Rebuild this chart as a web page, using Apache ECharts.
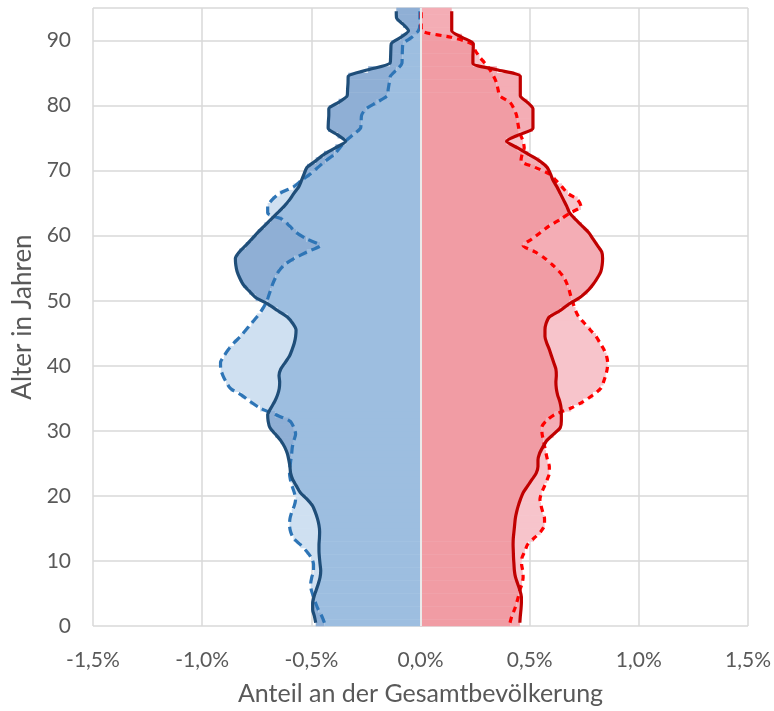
<!DOCTYPE html>
<html>
<head>
<meta charset="utf-8">
<script src="https://cdn.jsdelivr.net/npm/echarts@6/dist/echarts.min.js"></script>
<style>
html,body{margin:0;padding:0;background:#fff;}
#chart{width:774px;height:711px;}
</style>
</head>
<body>
<div id="chart"></div>
<script>
// Share of total population (%) per single year of age, index = age 0..94
const maleActual = [
0.48,0.486,0.494,0.494,0.488,0.478,0.468,0.46,0.457,0.46,
0.463,0.465,0.465,0.463,0.462,0.465,0.472,0.482,0.495,0.52,
0.55,0.568,0.585,0.595,0.598,0.603,0.61,0.622,0.64,0.665,
0.69,0.698,0.70,0.685,0.668,0.655,0.647,0.645,0.648,0.64,
0.62,0.60,0.588,0.578,0.572,0.57,0.585,0.61,0.655,0.70,
0.755,0.785,0.812,0.828,0.84,0.846,0.848,0.83,0.80,0.772,
0.745,0.715,0.685,0.655,0.625,0.60,0.58,0.558,0.545,0.533,
0.52,0.48,0.442,0.39,0.343,0.38,0.423,0.422,0.42,0.42,
0.375,0.336,0.334,0.332,0.331,0.24,0.14,0.137,0.136,0.134,
0.09,0.055,0.08,0.11,0.111
];
const maleComparison = [
0.44,0.452,0.468,0.48,0.49,0.50,0.503,0.498,0.49,0.49,
0.50,0.522,0.55,0.582,0.595,0.60,0.598,0.59,0.578,0.572,
0.578,0.588,0.596,0.60,0.598,0.594,0.59,0.587,0.58,0.572,
0.58,0.598,0.665,0.735,0.78,0.82,0.87,0.89,0.905,0.915,
0.916,0.90,0.88,0.855,0.825,0.80,0.775,0.75,0.728,0.71,
0.698,0.688,0.678,0.665,0.65,0.625,0.578,0.52,0.46,0.522,
0.57,0.60,0.632,0.70,0.70,0.68,0.645,0.582,0.545,0.505,
0.47,0.435,0.395,0.37,0.345,0.31,0.275,0.272,0.27,0.25,
0.20,0.153,0.148,0.143,0.138,0.11,0.085,0.084,0.083,0.08,
0.04,0.01,0.003,0.003,0.003
];
const femaleActual = [
0.455,0.457,0.46,0.462,0.462,0.455,0.445,0.435,0.43,0.428,
0.426,0.425,0.424,0.425,0.428,0.431,0.434,0.44,0.448,0.458,
0.47,0.49,0.51,0.53,0.538,0.538,0.545,0.56,0.578,0.61,
0.64,0.645,0.645,0.644,0.638,0.628,0.622,0.62,0.622,0.62,
0.61,0.60,0.59,0.578,0.57,0.57,0.575,0.59,0.64,0.68,
0.73,0.765,0.79,0.81,0.826,0.832,0.834,0.83,0.81,0.79,
0.77,0.74,0.71,0.683,0.67,0.655,0.64,0.625,0.607,0.595,
0.58,0.545,0.495,0.445,0.394,0.45,0.515,0.515,0.515,0.515,
0.49,0.457,0.457,0.457,0.457,0.35,0.24,0.24,0.241,0.242,
0.19,0.143,0.143,0.143,0.143
];
const femaleComparison = [
0.41,0.418,0.43,0.44,0.448,0.455,0.465,0.47,0.468,0.463,
0.465,0.478,0.49,0.52,0.55,0.568,0.568,0.56,0.552,0.547,
0.555,0.568,0.58,0.59,0.59,0.582,0.575,0.569,0.563,0.557,
0.555,0.575,0.615,0.69,0.745,0.79,0.825,0.838,0.848,0.855,
0.857,0.852,0.84,0.822,0.804,0.778,0.752,0.725,0.71,0.70,
0.69,0.682,0.672,0.658,0.635,0.605,0.57,0.525,0.47,0.51,
0.55,0.59,0.64,0.685,0.735,0.72,0.675,0.648,0.62,0.59,
0.525,0.46,0.465,0.475,0.47,0.458,0.45,0.445,0.44,0.428,
0.41,0.363,0.355,0.348,0.335,0.318,0.295,0.27,0.25,0.235,
0.14,0.005,0.003,0.003,0.003
];

const FONT = 'Lato';
const TXT = '#595959';

function buildLayers(actual, comp, sign) {
  const base = [], actExcess = [], compExcess = [];
  for (let i = 0; i < actual.length; i++) {
    const a = actual[i], c = comp[i];
    const lo = Math.min(a, c), hi = Math.max(a, c);
    base.push([0, sign * lo, i]);
    if (a > c) actExcess.push([sign * lo, sign * hi, i]);
    else if (c > a) compExcess.push([sign * lo, sign * hi, i]);
  }
  return {base, actExcess, compExcess};
}
function linePts(arr, sign) {
  return arr.map((v, i) => [sign * v, i + 0.5]);
}

function barSeries(data, color) {
  return {
    type: 'custom',
    data: data,
    encode: {x: [0, 1], y: 2},
    silent: true,
    z: 1,
    renderItem: function (params, api) {
      const p0 = api.coord([api.value(0), api.value(2)]);
      const p1 = api.coord([api.value(1), api.value(2) + 1]);
      const x = Math.min(p0[0], p1[0]);
      const y = Math.min(p0[1], p1[1]);
      return {
        type: 'rect',
        shape: {x: x, y: y - 0.3, width: Math.abs(p1[0] - p0[0]), height: Math.abs(p1[1] - p0[1]) + 0.6},
        style: {fill: color}
      };
    }
  };
}

const M = buildLayers(maleActual, maleComparison, -1);
const F = buildLayers(femaleActual, femaleComparison, 1);

function lineSeries(data, color, dashed, dash) {
  return {
    type: 'line',
    data: data,
    showSymbol: false,
    symbol: 'none',
    smooth: 0.25,
    z: dashed ? 3 : 4,
    lineStyle: {color: color, width: 3.2, type: dashed ? dash : 'solid'},
    silent: true
  };
}

const chart = echarts.init(document.getElementById('chart'), null, {renderer: 'canvas'});
chart.setOption({
  animation: false,
  backgroundColor: '#ffffff',
  grid: {left: 93, right: 17, top: 8, bottom: 76, containLabel: false},
  xAxis: {
    type: 'value', min: -1.5, max: 1.5, interval: 0.5,
    name: 'Anteil an der Gesamtbevölkerung', nameLocation: 'middle', nameGap: 55,
    nameTextStyle: {fontFamily: FONT, fontSize: 25, color: TXT},
    axisLine: {show: false}, axisTick: {show: false},
    axisLabel: {fontFamily: FONT, fontSize: 21, color: TXT, margin: 24,
      formatter: v => v.toFixed(1).replace('.', ',') + '%'},
    splitLine: {show: true, lineStyle: {color: '#d9d9d9', width: 1.5}}
  },
  yAxis: {
    type: 'value', min: 0, max: 95, interval: 10,
    name: 'Alter in Jahren', nameLocation: 'middle', nameGap: 45,
    nameTextStyle: {fontFamily: FONT, fontSize: 26, color: TXT},
    axisLine: {show: false}, axisTick: {show: false},
    axisLabel: {fontFamily: FONT, fontSize: 21, color: TXT, margin: 22, showMaxLabel: false},
    splitLine: {show: true, lineStyle: {color: '#d9d9d9', width: 1.5}}
  },
  series: [
    barSeries(M.base, '#9dbee0'),
    barSeries(M.actExcess, '#8fafd5'),
    barSeries(M.compExcess, '#cfe0f1'),
    barSeries(F.base, '#f19ca4'),
    barSeries(F.actExcess, '#f4adb5'),
    barSeries(F.compExcess, '#f7c4cb'),
    {
      type: 'line', data: [], silent: true, z: 2,
      markLine: {silent: true, symbol: 'none', label: {show: false},
        lineStyle: {color: '#eaeaea', width: 2, type: 'solid'},
        data: [{xAxis: 0}]}
    },
    lineSeries(linePts(maleComparison, -1), '#2e75b6', true, [9, 5]),
    lineSeries(linePts(femaleComparison, 1), '#ff0000', true, [6, 5]),
    lineSeries(linePts(maleActual, -1), '#1f4e79', false),
    lineSeries(linePts(femaleActual, 1), '#c00000', false)
  ]
});
</script>
</body>
</html>
